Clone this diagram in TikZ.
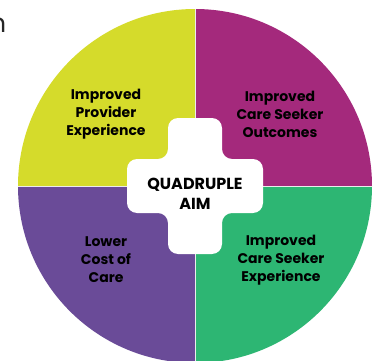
\documentclass[tikz,border=0pt]{standalone}
\usepackage{fontspec}
\setmainfont{Poppins}
\usepackage{xcolor}
\usepackage{tikz}
\usetikzlibrary{positioning}

\definecolor{providerfill}{HTML}{D5DB2B}
\definecolor{outcomesfill}{HTML}{A4297C}
\definecolor{costfill}{HTML}{6A4B98}
\definecolor{experiencefill}{HTML}{2DB673}

\begin{document}
\begin{tikzpicture}[x=1pt, y=1pt,
    divider/.style={draw=white!85!gray, line width=0.6pt},
    aimtext/.style={font=\bfseries\fontsize{14}{18}\selectfont, align=center, text=black, inner sep=0pt},
    aimtitle/.style={aimtext, font=\bfseries\fontsize{16}{20}\selectfont}]
    \useasboundingbox (0,0) rectangle (376,360);
    \coordinate (O) at (195,174);

    % the four quarters
    \fill[providerfill] (O) -- ++(180:177) arc[start angle=180, end angle=90, radius=177] -- cycle;
    \fill[outcomesfill] (O) -- ++(90:177) arc[start angle=90, end angle=0, radius=177] -- cycle;
    \fill[experiencefill] (O) -- ++(0:177) arc[start angle=0, end angle=-90, radius=177] -- cycle;
    \fill[costfill] (O) -- ++(-90:177) arc[start angle=-90, end angle=-180, radius=177] -- cycle;
    \draw[divider] (O) -- ++(0,177);
    \draw[divider] (O) -- ++(0,-177);
    \draw[divider] (O) -- ++(177,0);
    \draw[divider] (O) -- ++(-177,0);

    % white cross
    \fill[white, rounded corners=10pt] (168,242) -- (222,242) -- (222,201) -- (263,201)
        -- (263,147) -- (222,147) -- (222,106) -- (168,106) -- (168,147) -- (127,147)
        -- (127,201) -- (168,201) -- cycle;

    \node[aimtitle] (aim) at (195,166.5) {QUADRUPLE\\AIM};
    \node[aimtext] (provider) at (106,246) {Improved\\Provider\\Experience};
    \node[aimtext] (outcomes) at (280,246) {Improved\\Care Seeker\\Outcomes};
    \node[aimtext] (cost) at (106,100) {Lower\\Cost of\\Care};
    \node[aimtext] (experience) at (281,100) {Improved\\Care Seeker\\Experience};

    % cut-off letter at the edge
    \node[anchor=base east, inner sep=0pt, font=\fontsize{26}{26}\selectfont, text=black!85] (edge) at (6.5,327) {n};
\end{tikzpicture}
\end{document}
